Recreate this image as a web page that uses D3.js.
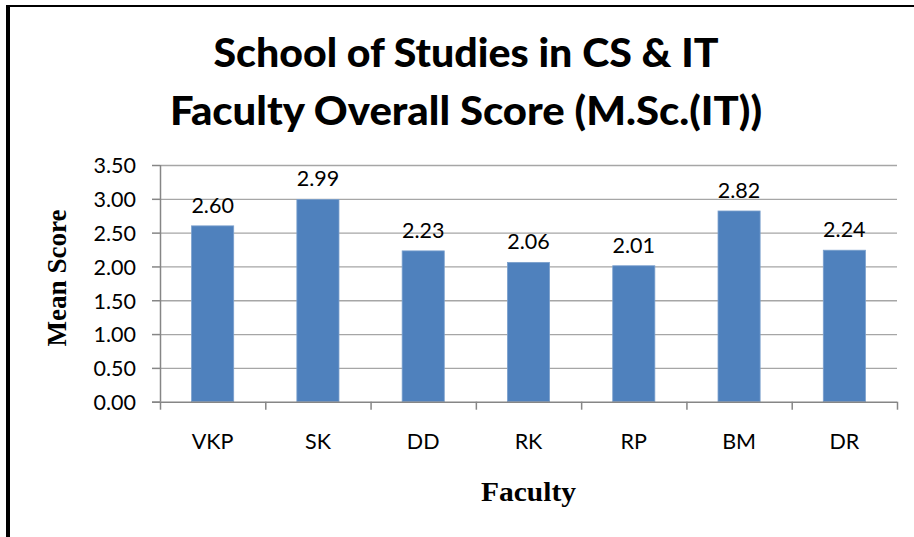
<!DOCTYPE html>
<html>
<head>
<meta charset="utf-8">
<script src="https://cdn.jsdelivr.net/npm/d3@7"></script>
<style>
  html, body { margin: 0; padding: 0; background: #fff; }
  svg { display: block; }
</style>
</head>
<body>
<svg id="chart" width="914" height="537"></svg>
<script>
const titleLines = ["School of Studies in CS & IT", "Faculty Overall Score (M.Sc.(IT))"];
const categories = ["VKP", "SK", "DD", "RK", "RP", "BM", "DR"];
const meanScores = [2.60, 2.99, 2.23, 2.06, 2.01, 2.82, 2.24];
const yTicks = [0, 0.5, 1.0, 1.5, 2.0, 2.5, 3.0, 3.5];
const yTitle = "Mean Score";
const xTitle = "Faculty";

const svg = d3.select("#chart");
const W = 914, H = 537;
const plot = { left: 160, right: 897, top: 165, bottom: 401.7 };

svg.append("rect").attr("width", W).attr("height", H).attr("fill", "#fff");

// frame (top and left black border)
svg.append("line").attr("x1", 6).attr("x2", W).attr("y1", 6).attr("y2", 6)
  .attr("stroke", "#000").attr("stroke-width", 2.2);
svg.append("line").attr("x1", 8).attr("x2", 8).attr("y1", 5).attr("y2", H)
  .attr("stroke", "#000").attr("stroke-width", 4);

const sans = "Lato, 'Open Sans', sans-serif";
const serif = "'Liberation Serif', 'DejaVu Serif', serif";

// title
const titleY = [67, 125];
const titleLen = [505, 592];
titleLines.forEach((t, i) => {
  svg.append("text")
    .attr("x", 466).attr("y", titleY[i])
    .attr("text-anchor", "middle")
    .attr("font-family", sans).attr("font-weight", 900)
    .attr("font-size", 40)
    .attr("textLength", titleLen[i]).attr("lengthAdjust", "spacingAndGlyphs")
    .attr("fill", "#000")
    .text(t);
});

const y = d3.scaleLinear().domain([0, 3.5]).range([plot.bottom, plot.top]);
const x = d3.scaleBand().domain(categories).range([plot.left, plot.right])
  .paddingInner(0.6).paddingOuter(0.3);
const xEdges = d3.scaleLinear().domain([0, categories.length]).range([plot.left, plot.right]);

// gridlines
const grid = svg.append("g").attr("transform", `translate(${plot.left},0)`)
  .call(d3.axisLeft(y).tickValues(yTicks.filter(v => v > 0))
    .tickSize(-(plot.right - plot.left)).tickFormat(""));
grid.select(".domain").remove();
grid.selectAll("line").attr("stroke", "#a6a6a6").attr("stroke-width", 1.3);

// y axis
const yAxis = svg.append("g").attr("transform", `translate(${plot.left},0)`)
  .call(d3.axisLeft(y).tickValues(yTicks).tickSize(8).tickPadding(16)
    .tickFormat(d3.format(".2f")));
yAxis.select(".domain").attr("stroke", "#868686").attr("stroke-width", 1.5)
  .attr("d", `M0.5,${plot.top}V${plot.bottom}`);
yAxis.selectAll("line").attr("stroke", "#868686").attr("stroke-width", 1.5);
yAxis.selectAll("text").attr("font-family", sans).attr("font-size", 21.5)
  .attr("fill", "#000").attr("dy", "0.36em");

// bars
svg.append("g").selectAll("rect").data(meanScores).join("rect")
  .attr("x", (d, i) => x(categories[i]))
  .attr("width", x.bandwidth())
  .attr("y", d => y(d))
  .attr("height", d => y(0) - y(d))
  .attr("fill", "#4F81BD")
  .attr("stroke", "#7BA0CD").attr("stroke-width", 0.8);

// x axis: boundary ticks
const xTickAxis = svg.append("g").attr("transform", `translate(0,${plot.bottom})`)
  .call(d3.axisBottom(xEdges).tickValues(d3.range(categories.length + 1))
    .tickSize(8).tickFormat(""));
xTickAxis.select(".domain").attr("stroke", "#868686").attr("stroke-width", 1.5)
  .attr("d", `M${plot.left - 8},0.5H${plot.right}`);
xTickAxis.selectAll("line").attr("stroke", "#868686").attr("stroke-width", 1.5);

// x axis: category labels
const xLab = svg.append("g").attr("transform", `translate(0,${plot.bottom})`)
  .call(d3.axisBottom(x).tickSize(0).tickPadding(32));
xLab.select(".domain").remove();
xLab.selectAll("text").attr("font-family", sans).attr("font-size", 21.5).attr("fill", "#000");

// value labels
svg.append("g").selectAll("text").data(meanScores).join("text")
  .attr("x", (d, i) => x(categories[i]) + x.bandwidth() / 2)
  .attr("y", d => y(d) - 13)
  .attr("text-anchor", "middle")
  .attr("font-family", sans).attr("font-size", 21.5).attr("fill", "#000")
  .text(d => d3.format(".2f")(d));

// axis titles
svg.append("text")
  .attr("transform", "translate(66,278) rotate(-90)")
  .attr("text-anchor", "middle")
  .attr("font-family", serif).attr("font-weight", "bold").attr("font-size", 27)
  .attr("textLength", 137).attr("lengthAdjust", "spacingAndGlyphs")
  .text(yTitle);

svg.append("text")
  .attr("x", 528.5).attr("y", 501)
  .attr("text-anchor", "middle")
  .attr("font-family", serif).attr("font-weight", "bold").attr("font-size", 27)
  .attr("textLength", 95).attr("lengthAdjust", "spacingAndGlyphs")
  .text(xTitle);
</script>
</body>
</html>
